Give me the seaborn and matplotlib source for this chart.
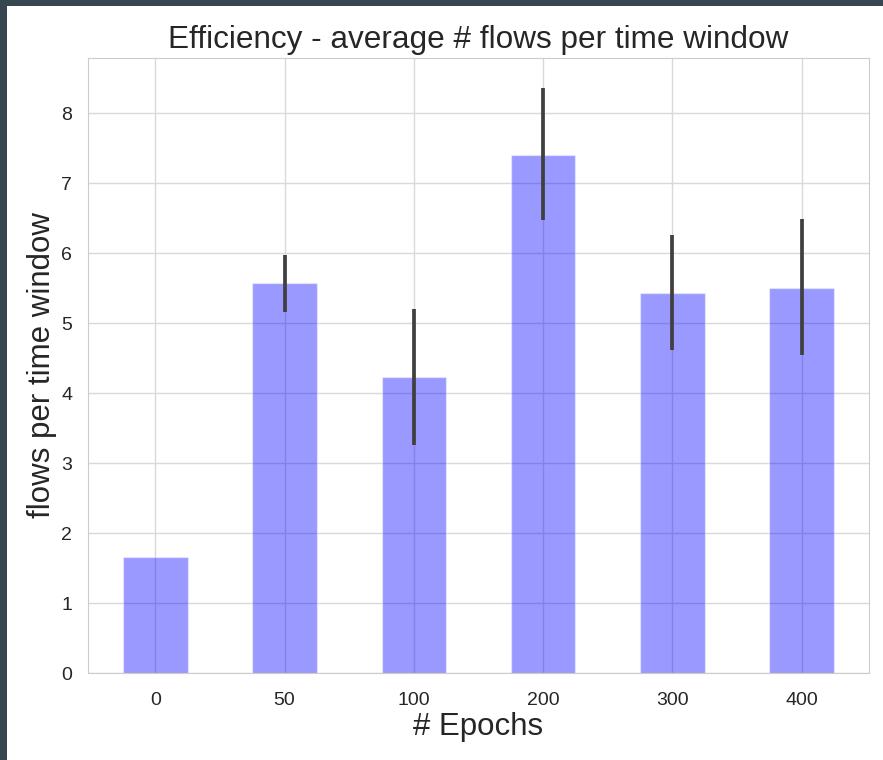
import pandas as pd
import matplotlib.pyplot as plt
import seaborn as sns
from matplotlib.patches import Rectangle

epochs = ['0', '50', '100', '200', '300', '400']
mean_flows = [1.66, 5.57, 4.23, 7.40, 5.43, 5.50]
err_low = [1.66, 5.16, 3.26, 6.47, 4.61, 4.54]
err_high = [1.66, 5.97, 5.20, 8.36, 6.26, 6.49]

df = pd.DataFrame({'epochs': epochs, 'flows': mean_flows})

sns.set_style('whitegrid')
plt.rcParams['font.family'] = ['Liberation Sans', 'DejaVu Sans']

fig = plt.figure(figsize=(8.83, 7.6), dpi=100)
fig.patch.set_facecolor('#37474f')
# white page area, with the dark frame left and top
fig.patches.append(Rectangle((7 / 883, 0), 1, 1 - 6 / 760, transform=fig.transFigure,
                             facecolor='white', edgecolor='none', zorder=-5))

ax = fig.add_axes([88 / 883, 87 / 760, 781 / 883, 615 / 760])
sns.barplot(data=df, x='epochs', y='flows', color='blue', alpha=0.4, width=0.5,
            errorbar=None, saturation=1, ax=ax)

# error bars (only where the interval has a length)
for i, (lo, hi) in enumerate(zip(err_low, err_high)):
    if hi > lo:
        ax.plot([i, i], [lo, hi], color='#404040', linewidth=2.7, zorder=3,
                solid_capstyle='butt')

ax.set_axisbelow(True)
ax.grid(True, axis='both', color='#d9d9d9', linewidth=1)
ax.set_xlim(-0.52, 5.52)
ax.set_ylim(0, 8.79)
ax.set_yticks(range(0, 9))
for s in ax.spines.values():
    s.set_color('#cccccc')

ax.set_title('Efficiency - average # flows per time window', fontsize=22.7, color='#262626', pad=7)
ax.set_xlabel('# Epochs', fontsize=22.5, color='#262626', labelpad=2)
ax.set_ylabel('flows per time window', fontsize=22.5, color='#262626', labelpad=3)
ax.tick_params(labelsize=14, colors='#262626')
ax.tick_params(axis='x', pad=10)
ax.tick_params(axis='y', pad=8)

fig.savefig('out.png', dpi=100, facecolor=fig.get_facecolor())
